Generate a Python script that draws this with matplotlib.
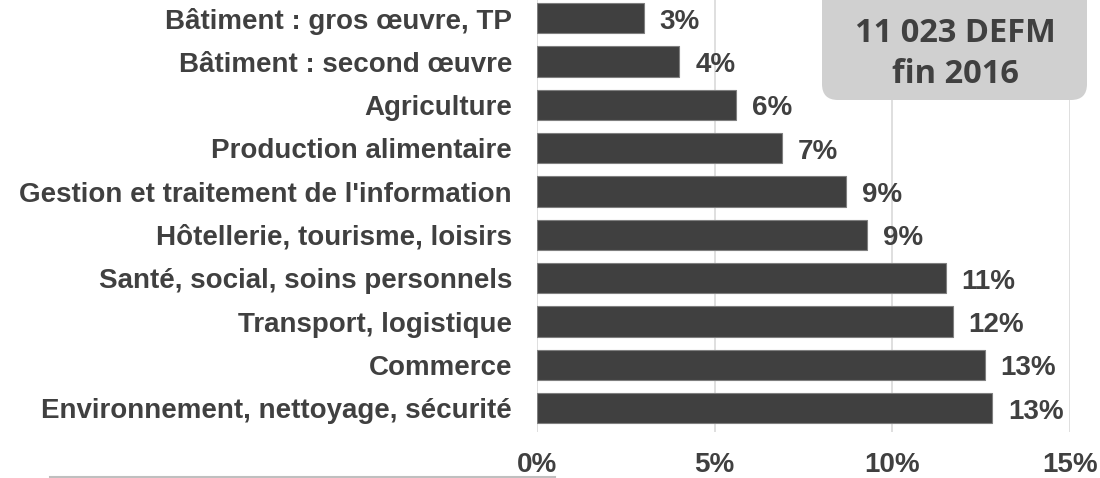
import matplotlib.pyplot as plt
from matplotlib.patches import FancyBboxPatch
from matplotlib.lines import Line2D

# categories listed from top to bottom as they appear
categories = [
    "Bâtiment : gros œuvre, TP",
    "Bâtiment : second œuvre",
    "Agriculture",
    "Production alimentaire",
    "Gestion et traitement de l'information",
    "Hôtellerie, tourisme, loisirs",
    "Santé, social, soins personnels",
    "Transport, logistique",
    "Commerce",
    "Environnement, nettoyage, sécurité",
]
shares = [3.0, 4.0, 5.6, 6.9, 8.7, 9.3, 11.5, 11.7, 12.6, 12.8]
share_labels = ["3%", "4%", "6%", "7%", "9%", "9%", "11%", "12%", "13%", "13%"]
xticks = [0, 5, 10, 15]
xtick_labels = ["0%", "5%", "10%", "15%"]
box_text = "11 023 DEFM\nfin 2016"

DARK = "#404040"
plt.rcParams["font.family"] = ["Liberation Sans", "DejaVu Sans"]
plt.rcParams["font.weight"] = "bold"

fig = plt.figure(figsize=(11, 4.78), dpi=100)
ax = fig.add_axes([0.4882, 0.096, 0.4845, 0.904])

n = len(categories)
ypos = list(range(n - 1, -1, -1))
ax.barh(ypos, shares, height=0.7, color=DARK, edgecolor="#7f7f7f", linewidth=0.8, zorder=3)

for y, v, lab in zip(ypos, shares, share_labels):
    ax.text(v + 0.45, y - 0.08, lab, va="center", ha="left", fontsize=20,
            fontweight="bold", color=DARK)

ax.set_xlim(0, 15)
ax.set_ylim(-0.55, n - 1 + 0.42)
ax.set_yticks(ypos)
ax.set_yticklabels(categories, fontsize=20, fontweight="bold", color=DARK)
ax.set_xticks(xticks)
ax.set_xticklabels(xtick_labels, fontsize=20, fontweight="bold", color=DARK)
ax.tick_params(axis="both", length=0)
ax.tick_params(axis="y", pad=18)
ax.tick_params(axis="x", pad=14)
ax.grid(axis="x", color="#d9d9d9", linewidth=1.2, zorder=0)
for s in ax.spines.values():
    s.set_visible(False)

# overlay in pixel units for the annotation box and the bottom rule
ov = fig.add_axes([0, 0, 1, 1])
ov.set_xlim(0, 1100)
ov.set_ylim(478, 0)
ov.axis("off")
ov.patch.set_alpha(0)
box = FancyBboxPatch((822, -60), 265, 160, boxstyle="round,pad=0,rounding_size=16",
                     facecolor="#d0d0d0", edgecolor="none")
ov.add_patch(box)
ov.text(955, 54, box_text, ha="center", va="center", fontsize=23.5,
        fontweight="bold", color=DARK, family="Open Sans", linespacing=1.3)
ov.add_line(Line2D([50, 555], [477, 477], color="#bfbfbf", linewidth=1.5))

fig.savefig("out.png", dpi=100)
